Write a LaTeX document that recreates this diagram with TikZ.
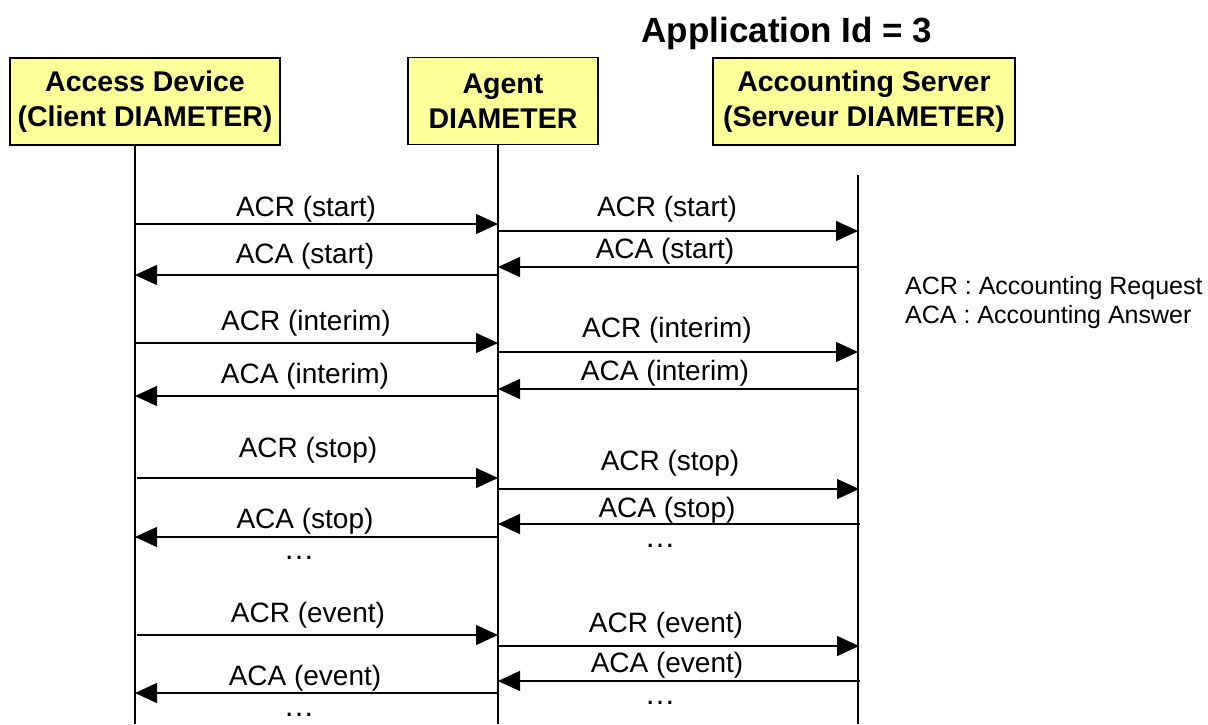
\documentclass[tikz,border=0pt]{standalone}
\usepackage{fontspec}
\setmainfont{Liberation Sans}
\usetikzlibrary{arrows.meta}
\definecolor{boxyellow}{HTML}{FFFF99}
\newcommand\msgarrow[7]{%
  \coordinate (#1s) at (#2,#4);
  \coordinate (#1e) at (#3,#4);
  \draw[msg] (#1s) -- (#1e);
  \node[lbl] (#1l) at (#6,#7) {#5};
}
\begin{document}
\begin{tikzpicture}[x=1pt,y=-1pt,
  actor/.style={draw=black,line width=1.5pt,fill=boxyellow,align=center,
    font=\fontsize{28.5}{35}\selectfont\bfseries,inner sep=0pt},
  msg/.style={line width=1.4pt,-{Triangle[length=22pt,width=20pt]}},
  life/.style={line width=1.4pt},
  lbl/.style={anchor=base,inner sep=0pt,font=\fontsize{28}{30}\selectfont},
  dots/.style={anchor=base,inner sep=0pt,text height=4pt,text depth=0pt,font=\fontsize{31}{30}\selectfont},
  legend/.style={anchor=base west,inner sep=0pt,font=\fontsize{25}{28}\selectfont},
  title/.style={anchor=base,inner sep=0pt,font=\fontsize{35}{38}\selectfont\bfseries}]
\useasboundingbox (0,0) rectangle (1208,724);
% title
\node[title] (title) at (787,42) {Application Id = 3};
% actors
\node[actor,minimum width=270pt,minimum height=87pt] (client) at (145,101.5) {Access Device\\(Client DIAMETER)};
\node[actor,minimum width=190pt,minimum height=87pt] (agent) at (503,101) {Agent\\DIAMETER};
\node[actor,minimum width=302pt,minimum height=87pt] (server) at (864,101.5) {Accounting Server\\(Serveur DIAMETER)};
% lifelines
\coordinate (l1t) at (135,145);
\coordinate (l1b) at (135,724);
\coordinate (l2t) at (498,144);
\coordinate (l2b) at (498,724);
\coordinate (l3t) at (858,175);
\coordinate (l3b) at (858,724);
\draw[life] (l1t) -- (l1b);
\draw[life] (l2t) -- (l2b);
\draw[life] (l3t) -- (l3b);
% client <-> agent
\msgarrow{a1}{135}{498}{224}{ACR (start)}{306}{216}
\msgarrow{a2}{498}{135}{275}{ACA (start)}{305}{263}
\msgarrow{a3}{135}{498}{343}{ACR (interim)}{306}{330}
\msgarrow{a4}{498}{135}{396}{ACA (interim)}{305}{383}
\msgarrow{a5}{137}{498}{478}{ACR (stop)}{308}{457}
\msgarrow{a6}{498}{135}{537}{ACA (stop)}{305}{528}
\msgarrow{a7}{137}{498}{635}{ACR (event)}{308}{622}
\msgarrow{a8}{498}{135}{693}{ACA (event)}{305}{685}
\node[dots] (d1) at (299,559) {…};
\node[dots] (d2) at (299,716) {…};
% agent <-> server
\msgarrow{b1}{498}{858}{231}{ACR (start)}{667}{216}
\msgarrow{b2}{858}{498}{267}{ACA (start)}{665}{258}
\msgarrow{b3}{498}{858}{352}{ACR (interim)}{667}{337}
\msgarrow{b4}{858}{498}{389}{ACA (interim)}{665}{380}
\msgarrow{b5}{498}{859}{489}{ACR (stop)}{670}{470}
\msgarrow{b6}{860}{498}{524}{ACA (stop)}{667}{517}
\msgarrow{b7}{498}{859}{646}{ACR (event)}{666}{632}
\msgarrow{b8}{860}{498}{681}{ACA (event)}{667}{672}
\node[dots] (d3) at (660,547) {…};
\node[dots] (d4) at (660,704) {…};
% legend
\node[legend] (leg1) at (905,294) {ACR : Accounting Request};
\node[legend] (leg2) at (905,323) {ACA : Accounting Answer};
\end{tikzpicture}
\end{document}
